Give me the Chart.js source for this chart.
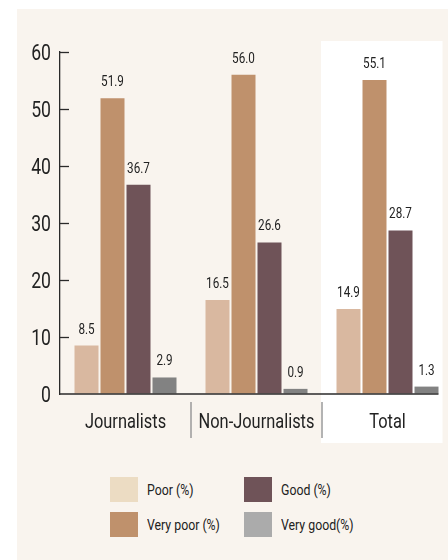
<!DOCTYPE html>
<html lang="en">
<head>
<meta charset="UTF-8">
<title>Poor / good ratings</title>
<script src="https://cdn.jsdelivr.net/npm/chart.js"></script>
<style>
    html, body {
        margin: 0;
        padding: 0;
        width: 448px;
        height: 560px;
        overflow: hidden;
        background: #ffffff;
        font-family: Roboto, "DejaVu Sans", sans-serif;
        color: #222;
    }
    .panel {
        position: absolute;
        left: 17px;
        top: 9px;
        width: 431px;
        height: 551px;
        background: #f9f4ee;
    }
    .chart {
        position: absolute;
        left: 0;
        top: 0;
        width: 470px;
        height: 460px;
    }
    #legend {
        position: absolute;
        left: 110px;
        top: 477px;
        display: grid;
        grid-template-rows: 25px 25px;
        grid-template-columns: 134px auto;
        grid-auto-flow: column;
        row-gap: 10px;
        font-size: 15px;
    }
    .item {
        display: flex;
        align-items: center;
    }
    .item span {
        display: inline-block;
        transform: scaleX(0.82);
        transform-origin: left center;
        white-space: nowrap;
    }
    .swatch {
        width: 28px;
        height: 25px;
        margin-right: 9px;
    }
</style>
</head>
<body>
<div class="panel"></div>
<div class="chart"><canvas id="myChart" width="470" height="460"></canvas></div>
<div id="legend"></div>

<script>
    const categories = ['Journalists', 'Non-Journalists', 'Total'];
    const seriesNames = ['Poor (%)', 'Very poor (%)', 'Good (%)', 'Very good(%)'];
    const poor = [8.5, 16.5, 14.9];
    const veryPoor = [51.9, 56.0, 55.1];
    const good = [36.7, 26.6, 28.7];
    const veryGood = [2.9, 0.9, 1.3];
    const yTicks = [0, 10, 20, 30, 40, 50, 60];

    const barColors = ['#d9b8a0', '#bf916c', '#6f5358', '#828282'];
    const legendColors = ['#ecdcc3', '#bf916c', '#6f5358', '#ababab'];
    const FONT = 'Roboto, "DejaVu Sans", sans-serif';
    const INK = '#222222';
    const NARROW = 0.78; // the original uses a condensed face, squeeze Roboto to match

    const allSeries = [poor, veryPoor, good, veryGood];

    // legend is laid out column by column, so build it by hand
    document.getElementById('legend').innerHTML = seriesNames.map((name, i) =>
        `<div class="item"><div class="swatch" style="background:${legendColors[i]}"></div><span>${name}</span></div>`
    ).join('');

    function lastBarRight(chart) {
        let right = chart.chartArea.right;
        const meta = chart.getDatasetMeta(chart.data.datasets.length - 1);
        const bar = meta.data[meta.data.length - 1];
        if (bar) right = bar.x + bar.width / 2;
        return right;
    }

    function narrowText(ctx, text, x, y, size, align, baseline, sx) {
        ctx.save();
        ctx.translate(x, y);
        ctx.scale(sx, 1);
        ctx.font = size + 'px ' + FONT;
        ctx.textAlign = align;
        ctx.textBaseline = baseline;
        ctx.fillStyle = INK;
        ctx.fillText(text, 0, 0);
        ctx.restore();
    }

    const decorations = {
        id: 'decorations',
        beforeDraw(chart) {
            const {ctx, chartArea, scales: {x}} = chart;
            // white box behind the "Total" group
            const left = (x.getPixelForValue(1) + x.getPixelForValue(2)) / 2 - 1;
            const right = lastBarRight(chart) + 4;
            ctx.save();
            ctx.fillStyle = '#ffffff';
            ctx.fillRect(left, chartArea.top - 11, right - left, chartArea.bottom - chartArea.top + 60);
            ctx.restore();
        },
        afterDraw(chart) {
            const {ctx, chartArea, scales: {x, y}} = chart;
            ctx.save();
            // x axis line, only as far as the last bar
            ctx.strokeStyle = '#2a2a2a';
            ctx.lineWidth = 1.3;
            ctx.beginPath();
            ctx.moveTo(chartArea.left, chartArea.bottom);
            ctx.lineTo(lastBarRight(chart), chartArea.bottom);
            ctx.stroke();
            // tick marks pointing into the plot, plus their labels
            y.ticks.forEach(t => {
                const py = y.getPixelForValue(t.value);
                narrowText(ctx, String(t.value), chartArea.left - 9, py + 2, 22, 'right', 'middle', 0.8);
                if (t.value === 0) return;
                ctx.beginPath();
                ctx.moveTo(chartArea.left, Math.round(py) + 0.5);
                ctx.lineTo(chartArea.left + 9, Math.round(py) + 0.5);
                ctx.stroke();
            });
            // category labels and separators between the groups
            categories.forEach((c, i) => {
                narrowText(ctx, c, x.getPixelForValue(i), chartArea.bottom + 34, 20, 'center', 'alphabetic', 0.82);
            });
            ctx.strokeStyle = '#9a9a9a';
            ctx.lineWidth = 1.5;
            for (let i = 1; i < categories.length; i++) {
                const px = Math.round((x.getPixelForValue(i - 1) + x.getPixelForValue(i)) / 2);
                ctx.beginPath();
                ctx.moveTo(px, chartArea.bottom + 8);
                ctx.lineTo(px, chartArea.bottom + 44);
                ctx.stroke();
            }
            // value labels
            chart.data.datasets.forEach((ds, i) => {
                chart.getDatasetMeta(i).data.forEach((bar, j) => {
                    narrowText(ctx, ds.data[j].toFixed(1), bar.x, bar.y - 12, 15, 'center', 'alphabetic', NARROW);
                });
            });
            ctx.restore();
        }
    };

    new Chart(document.getElementById('myChart'), {
        type: 'bar',
        data: {
            labels: categories,
            datasets: allSeries.map((values, i) => ({
                label: seriesNames[i],
                data: values,
                backgroundColor: barColors[i],
                borderWidth: 0,
                categoryPercentage: 0.794,
                barPercentage: 0.923
            }))
        },
        options: {
            responsive: false,
            animation: false,
            events: [],
            layout: {
                padding: {top: 52, left: 22, right: 17, bottom: 16}
            },
            plugins: {
                legend: {display: false},
                tooltip: {enabled: false}
            },
            scales: {
                x: {
                    grid: {display: true, drawOnChartArea: false, drawTicks: false},
                    border: {display: false},
                    ticks: {display: false},
                    afterFit(scale) { scale.height = 50; }
                },
                y: {
                    min: 0,
                    max: 60,
                    afterBuildTicks(scale) { scale.ticks = yTicks.map(v => ({value: v})); },
                    grid: {display: true, drawOnChartArea: false, drawTicks: false},
                    border: {display: true, color: '#2a2a2a', width: 1.3},
                    ticks: {display: false},
                    afterFit(scale) { scale.width = 38; }
                }
            }
        },
        plugins: [decorations]
    });
</script>
</body>
</html>
